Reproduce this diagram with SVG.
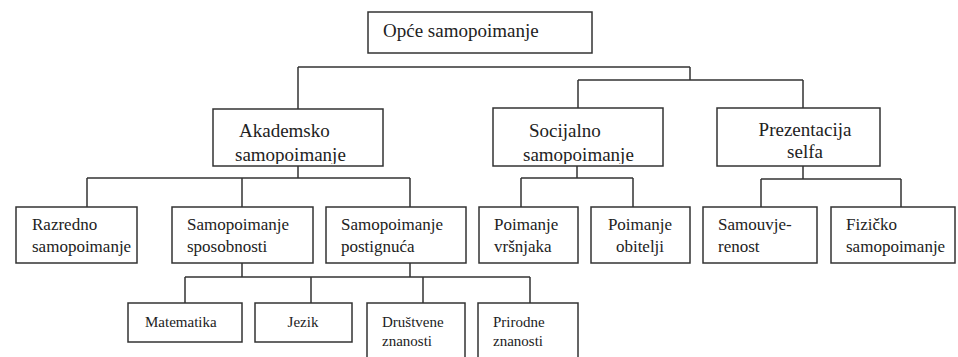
<svg xmlns="http://www.w3.org/2000/svg" width="958" height="357" viewBox="0 0 958 357">
<style>
.box{fill:#fff;stroke:#333;stroke-width:1.5}
.ln{fill:none;stroke:#333;stroke-width:1.5}
.t1{font-size:19px;fill:#222}
.t2{font-size:17px;fill:#222}
.t3{font-size:15px;fill:#222}
.c{text-anchor:middle}
</style>
<defs>
<clipPath id="clipA"><rect x="213" y="109" width="170" height="55"/></clipPath>
<clipPath id="clipS"><rect x="493" y="108" width="170" height="56"/></clipPath>
</defs>
<rect width="958" height="357" fill="#fff"/>
<g id="connectors" class="ln">
<path d="M298,67 H690 M298,67 V109 M690,67 V80 M578,80 H803 M578,80 V108 M803,80 V108"/>
<path d="M298,166 V178 M87,178 H410 M87,178 V207 M242,178 V207 M410,178 V207"/>
<path d="M577,166 V178 M521,178 H633 M521,178 V207 M633,178 V207"/>
<path d="M803,166 V179 M761,179 H901 M761,179 V207 M901,179 V207"/>
<path d="M242,263 V277 M410,263 V277 M185,277 H530 M185,277 V303 M311,277 V303 M423,277 V303 M530,277 V303"/>
</g>
<g id="nodes">
<g id="n-opce"><rect class="box" x="368" y="12" width="224" height="41"/><text font-family="Liberation Serif" class="t1" x="383" y="37">Opće samopoimanje</text></g>
<g id="n-akademsko"><rect class="box" x="213" y="109" width="170" height="57"/><g clip-path="url(#clipA)"><text font-family="Liberation Serif" class="t1" x="239" y="137">Akademsko</text><text font-family="Liberation Serif" class="t1" x="235" y="161">samopoimanje</text></g></g>
<g id="n-socijalno"><rect class="box" x="493" y="108" width="170" height="58"/><g clip-path="url(#clipS)"><text font-family="Liberation Serif" class="t1" x="529" y="137">Socijalno</text><text font-family="Liberation Serif" class="t1" x="523" y="161">samopoimanje</text></g></g>
<g id="n-prezentacija"><rect class="box" x="717" y="108" width="163" height="58"/><text font-family="Liberation Serif" class="t1 c" x="805" y="136">Prezentacija</text><text font-family="Liberation Serif" class="t1 c" x="805" y="158">selfa</text></g>
<g id="n-razredno"><rect class="box" x="16" y="207" width="121" height="56"/><text font-family="Liberation Serif" class="t2" x="32" y="230">Razredno</text><text font-family="Liberation Serif" class="t2" x="32" y="252">samopoimanje</text></g>
<g id="n-sposobnosti"><rect class="box" x="172" y="207" width="141" height="56"/><text font-family="Liberation Serif" class="t2" x="187" y="230">Samopoimanje</text><text font-family="Liberation Serif" class="t2" x="187" y="252">sposobnosti</text></g>
<g id="n-postignuca"><rect class="box" x="326" y="207" width="140" height="56"/><text font-family="Liberation Serif" class="t2" x="341" y="230">Samopoimanje</text><text font-family="Liberation Serif" class="t2" x="341" y="252">postignuća</text></g>
<g id="n-vrsnjaka"><rect class="box" x="479" y="207" width="99" height="56"/><text font-family="Liberation Serif" class="t2" x="494" y="230">Poimanje</text><text font-family="Liberation Serif" class="t2" x="494" y="252">vršnjaka</text></g>
<g id="n-obitelji"><rect class="box" x="591" y="207" width="99" height="56"/><text font-family="Liberation Serif" class="t2 c" x="640" y="230">Poimanje</text><text font-family="Liberation Serif" class="t2 c" x="640" y="252">obitelji</text></g>
<g id="n-samouvjerenost"><rect class="box" x="703" y="207" width="114" height="56"/><text font-family="Liberation Serif" class="t2" x="718" y="230">Samouvje-</text><text font-family="Liberation Serif" class="t2" x="718" y="252">renost</text></g>
<g id="n-fizicko"><rect class="box" x="831" y="207" width="124" height="56"/><text font-family="Liberation Serif" class="t2" x="846" y="230">Fizičko</text><text font-family="Liberation Serif" class="t2" x="846" y="252">samopoimanje</text></g>
<g id="n-matematika"><rect class="box" x="128" y="303" width="114" height="39"/><text font-family="Liberation Serif" class="t3" x="145" y="327">Matematika</text></g>
<g id="n-jezik"><rect class="box" x="255" y="303" width="97" height="39"/><text font-family="Liberation Serif" class="t3 c" x="303" y="327">Jezik</text></g>
<g id="n-drustvene"><rect class="box" x="367" y="303" width="98" height="60"/><text font-family="Liberation Serif" class="t3" x="382" y="327">Društvene</text><text font-family="Liberation Serif" class="t3" x="382" y="346">znanosti</text></g>
<g id="n-prirodne"><rect class="box" x="478" y="303" width="100" height="60"/><text font-family="Liberation Serif" class="t3" x="493" y="327">Prirodne</text><text font-family="Liberation Serif" class="t3" x="493" y="346">znanosti</text></g>
</g>
</svg>
